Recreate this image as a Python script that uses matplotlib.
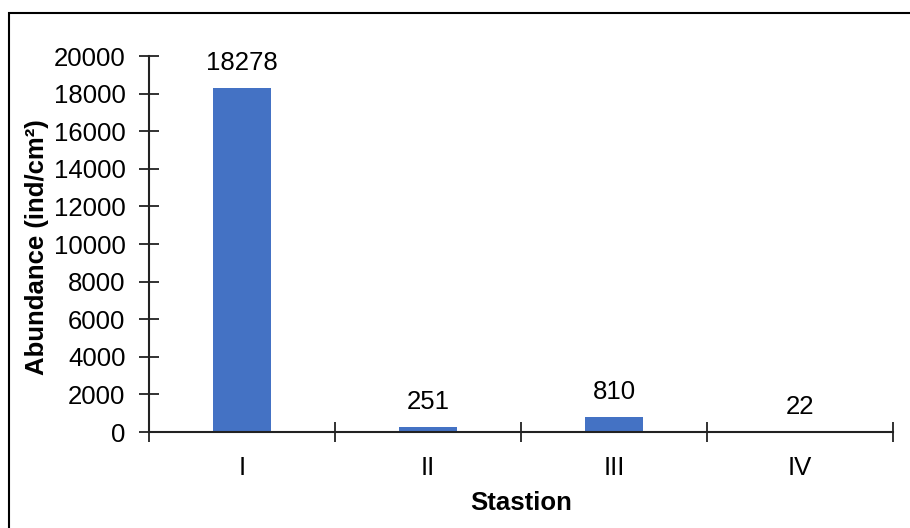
import matplotlib.pyplot as plt
from matplotlib.patches import Rectangle
import numpy as np

plt.rcParams['font.family'] = ['Liberation Sans', 'DejaVu Sans']

stations = ['I', 'II', 'III', 'IV']
abundance = [18278, 251, 810, 22]
y_ticks = list(range(0, 20001, 2000))

fig = plt.figure(figsize=(9.1, 5.28), dpi=100)
ax = fig.add_axes([149/910, 1 - 432/528, 744/910, 376/528])

x = np.arange(len(stations))
bars = ax.bar(x, abundance, width=0.317, color='#4472C4', edgecolor='none', zorder=2)

for xi, v in zip(x, abundance):
    ax.annotate(str(v), (xi, v), xytext=(0, 13), textcoords='offset points',
                ha='center', va='baseline', fontsize=18.5)

ax.set_xlim(-0.5, len(stations) - 0.5)
ax.set_ylim(0, 20000)
ax.set_yticks(y_ticks)
ax.set_yticklabels([str(t) for t in y_ticks], fontsize=18.5)

# labels sit at the centres, tick marks at the category edges
ax.set_xticks(x)
ax.set_xticklabels(stations, fontsize=18.5)
ax.set_xticks(np.arange(-0.5, len(stations)), minor=True)
ax.tick_params(axis='x', which='major', length=0, pad=17)
ax.tick_params(axis='x', which='minor', direction='inout', length=15, width=1.3, color='#222222')
ax.tick_params(axis='y', direction='inout', length=14, width=1.3, color='#222222', pad=10)

for s in ['top', 'right']:
    ax.spines[s].set_visible(False)
for s in ['left', 'bottom']:
    ax.spines[s].set_linewidth(1.5)
    ax.spines[s].set_color('#222222')

ax.set_ylabel('Abundance (ind/cm²)', fontsize=18.5, fontweight='bold')
ax.yaxis.set_label_coords((49 - 149) / 744, 0.491)
ax.set_xlabel('Stastion', fontsize=18.5, fontweight='bold')
ax.xaxis.set_label_coords(0.5, (432 - 491) / 376)

# chart border, only top and left edges fall inside the image
fig.patches.append(Rectangle((9/910, -0.1), 1.2, 1.1 - 13/528 + 0.0, transform=fig.transFigure,
                             fill=False, edgecolor='black', linewidth=1.5))

fig.savefig('out.png', dpi=100)
